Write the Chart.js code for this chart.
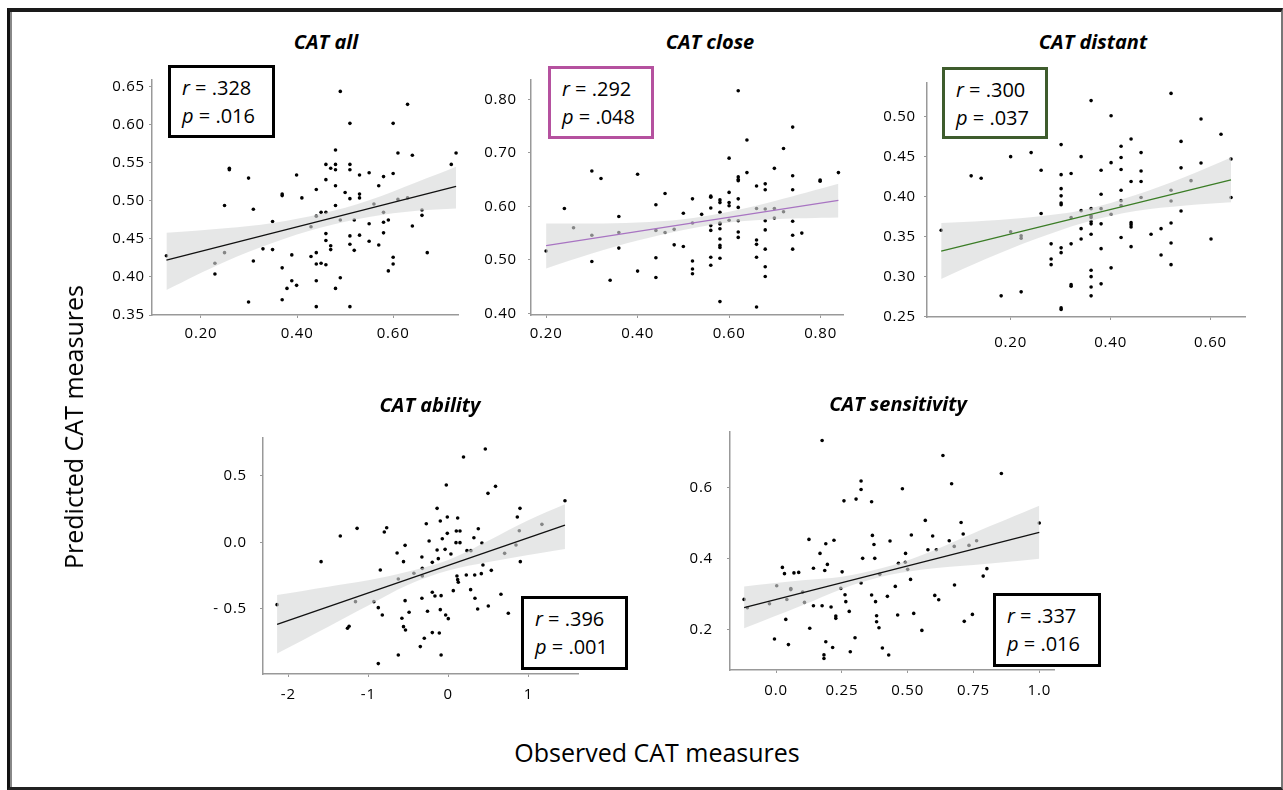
<!DOCTYPE html>
<html>
<head>
<meta charset="utf-8">
<script src="https://cdn.jsdelivr.net/npm/chart.js@4.4.1/dist/chart.umd.min.js"></script>
<style>
  body { margin: 0; width: 1283px; height: 790px; position: relative; overflow: hidden; background: #fff; font-family: "Open Sans", sans-serif; color: #111; }
  .frame { position: absolute; left: 7px; top: 8px; right: 0; bottom: 0; box-sizing: border-box;
           border-left: 3px solid #111; border-top: 4px solid #1a1a1a; border-right: 2px solid #777; border-bottom: 3px solid #222;
           box-shadow: inset 2px 0 0 #888; }
  .title { position: absolute; font: italic bold 20px/20px "Open Sans", sans-serif; transform: translateX(-50%); white-space: nowrap; color: #000; }
  .axis { position: absolute; font: 25px/30px "Open Sans", sans-serif; white-space: nowrap; transform: translate(-50%, -50%); color: #000; }
  .stat { position: absolute; box-sizing: border-box; border: 3px solid #000; background: #fff; font: 20px/28px "Open Sans", sans-serif; padding: 6px 0 0 11px; z-index: 2; color: #000; }
  .stat i { font-style: italic; }
  canvas { position: absolute; }
</style>
</head>
<body>
<div class="frame"></div>

<script>
// ---- CAT all ----
const allTicksX = [0.20, 0.40, 0.60];
const allTicksY = [0.35, 0.40, 0.45, 0.50, 0.55, 0.60, 0.65];
const allPts = [
  [0.128,0.428],[0.229,0.404],[0.229,0.418],[0.249,0.432],[0.249,0.494],[0.259,0.543],[0.259,0.541],
  [0.299,0.530],[0.299,0.367],[0.309,0.489],[0.309,0.421],[0.329,0.437],[0.349,0.473],[0.349,0.436],
  [0.369,0.509],[0.369,0.507],[0.369,0.412],[0.369,0.370],[0.379,0.385],[0.389,0.395],[0.399,0.389],
  [0.389,0.429],[0.399,0.534],[0.410,0.504],[0.429,0.466],[0.429,0.427],[0.440,0.515],[0.440,0.480],
  [0.440,0.432],[0.440,0.417],[0.440,0.395],[0.440,0.361],[0.450,0.485],[0.450,0.418],[0.460,0.548],
  [0.460,0.528],[0.460,0.485],[0.460,0.457],[0.460,0.448],[0.460,0.416],[0.470,0.543],[0.470,0.441],
  [0.470,0.436],[0.480,0.567],[0.480,0.548],[0.480,0.541],[0.480,0.520],[0.480,0.494],[0.480,0.385],
  [0.490,0.644],[0.490,0.475],[0.490,0.399],[0.500,0.511],[0.510,0.602],[0.510,0.548],[0.510,0.541],
  [0.510,0.503],[0.510,0.454],[0.510,0.443],[0.510,0.361],[0.519,0.475],[0.519,0.435],[0.530,0.534],
  [0.530,0.509],[0.530,0.504],[0.530,0.455],[0.550,0.537],[0.550,0.470],[0.550,0.447],[0.560,0.496],
  [0.570,0.520],[0.570,0.442],[0.580,0.532],[0.580,0.485],[0.580,0.472],[0.580,0.458],[0.590,0.475],
  [0.590,0.408],[0.600,0.602],[0.600,0.536],[0.600,0.426],[0.600,0.417],[0.610,0.563],[0.610,0.502],
  [0.630,0.627],[0.630,0.504],[0.640,0.560],[0.640,0.467],[0.660,0.488],[0.660,0.481],[0.671,0.432],
  [0.721,0.548],[0.731,0.563]
];
const allFit = [[0.128, 0.422], [0.731, 0.519]];
const allBandX  = [0.128, 0.25, 0.35, 0.45, 0.55, 0.65, 0.731];
const allBandUp = [0.458, 0.464, 0.471, 0.483, 0.501, 0.525, 0.545];
const allBandLo = [0.383, 0.420, 0.445, 0.465, 0.479, 0.487, 0.490];

// ---- CAT close ----
const closeTicksX = [0.20, 0.40, 0.60, 0.80];
const closeTicksY = [0.40, 0.50, 0.60, 0.70, 0.80];
const closePts = [
  [0.2,0.5165],[0.24,0.596],[0.26,0.560],[0.30,0.666],[0.30,0.546],[0.30,0.497],[0.32,0.652],[0.34,0.462],
  [0.359,0.581],[0.359,0.551],[0.359,0.522],[0.40,0.660],[0.40,0.479],[0.44,0.603],[0.44,0.555],[0.44,0.504],
  [0.44,0.467],[0.46,0.624],[0.46,0.551],[0.48,0.557],[0.48,0.528],[0.50,0.587],[0.50,0.525],[0.52,0.614],
  [0.52,0.569],[0.52,0.498],[0.52,0.483],[0.52,0.474],[0.54,0.585],[0.56,0.619],[0.56,0.617],[0.56,0.597],
  [0.56,0.564],[0.56,0.555],[0.56,0.505],[0.56,0.490],[0.58,0.612],[0.58,0.607],[0.58,0.589],[0.58,0.569],
  [0.58,0.567],[0.58,0.558],[0.58,0.539],[0.58,0.527],[0.58,0.523],[0.58,0.503],[0.58,0.422],[0.60,0.690],
  [0.60,0.626],[0.60,0.607],[0.60,0.601],[0.60,0.574],[0.62,0.816],[0.62,0.655],[0.62,0.650],[0.62,0.648],
  [0.62,0.614],[0.62,0.598],[0.62,0.573],[0.62,0.552],[0.62,0.542],[0.639,0.724],[0.639,0.663],[0.66,0.638],
  [0.66,0.596],[0.66,0.537],[0.66,0.529],[0.66,0.505],[0.66,0.412],[0.679,0.642],[0.679,0.631],[0.679,0.595],
  [0.679,0.573],[0.679,0.556],[0.679,0.520],[0.679,0.487],[0.679,0.469],[0.699,0.671],[0.699,0.596],[0.699,0.578],
  [0.719,0.708],[0.719,0.590],[0.739,0.748],[0.739,0.657],[0.739,0.631],[0.739,0.572],[0.739,0.546],[0.739,0.520],
  [0.759,0.550],[0.799,0.649],[0.799,0.647],[0.839,0.663]
];
const closeFit = [[0.2, 0.5265], [0.839, 0.611]];
const closeBandX  = [0.2, 0.3, 0.4, 0.5, 0.6, 0.7, 0.839];
const closeBandUp = [0.568, 0.568, 0.570, 0.576, 0.590, 0.610, 0.642];
const closeBandLo = [0.484, 0.512, 0.536, 0.556, 0.570, 0.576, 0.579];

// ---- CAT distant ----
const distTicksX = [0.20, 0.40, 0.60];
const distTicksY = [0.25, 0.30, 0.35, 0.40, 0.45, 0.50];
const distPts = [
  [0.061,0.358],[0.121,0.426],[0.141,0.423],[0.181,0.276],[0.20,0.45],[0.20,0.356],[0.221,0.351],[0.221,0.348],
  [0.221,0.281],[0.241,0.455],[0.261,0.433],[0.261,0.379],[0.281,0.341],[0.281,0.322],[0.281,0.315],[0.301,0.465],
  [0.301,0.4275],[0.301,0.410],[0.301,0.401],[0.301,0.392],[0.301,0.390],[0.301,0.336],[0.301,0.330],[0.301,0.261],
  [0.301,0.259],[0.321,0.429],[0.321,0.374],[0.321,0.341],[0.321,0.290],[0.321,0.288],[0.341,0.450],[0.341,0.3825],
  [0.341,0.360],[0.341,0.347],[0.361,0.520],[0.361,0.385],[0.361,0.376],[0.361,0.374],[0.361,0.369],[0.361,0.366],
  [0.361,0.353],[0.361,0.308],[0.361,0.300],[0.361,0.287],[0.361,0.276],[0.381,0.433],[0.381,0.403],[0.381,0.385],
  [0.381,0.366],[0.381,0.335],[0.381,0.291],[0.401,0.501],[0.401,0.4425],[0.401,0.378],[0.401,0.311],[0.421,0.463],
  [0.421,0.449],[0.421,0.434],[0.421,0.408],[0.421,0.395],[0.421,0.389],[0.421,0.349],[0.441,0.472],[0.441,0.419],
  [0.441,0.3675],[0.441,0.365],[0.441,0.362],[0.441,0.3375],[0.461,0.455],[0.461,0.432],[0.461,0.419],[0.461,0.399],
  [0.481,0.353],[0.501,0.360],[0.501,0.327],[0.521,0.529],[0.521,0.408],[0.521,0.3945],[0.521,0.367],[0.521,0.342],
  [0.521,0.315],[0.541,0.469],[0.541,0.436],[0.541,0.382],[0.561,0.420],[0.581,0.497],[0.581,0.442],[0.601,0.347],
  [0.621,0.478],[0.641,0.447],[0.641,0.399]
];
const distFit = [[0.061, 0.332], [0.641, 0.421]];
const distBandX  = [0.061, 0.15, 0.25, 0.35, 0.45, 0.55, 0.641];
const distBandUp = [0.367, 0.370, 0.375, 0.384, 0.402, 0.425, 0.449];
const distBandLo = [0.297, 0.322, 0.347, 0.368, 0.382, 0.389, 0.393];

// ---- CAT ability ----
const abilTicksX = [-2, -1, 0, 1];
const abilLabelsX = ['-2', '-1', '0', '1'];
const abilTicksY = [-0.5, 0, 0.5];
const abilLabelsY = ['- 0.5', '0.0', '0.5'];
const abilPts = [
  [-2.14,-0.4675],[-1.59,-0.145],[-1.35,0.0475],[-1.26,-0.645],[-1.24,-0.63],[-1.16,-0.445],[-1.14,0.105],
  [-0.93,-0.445],[-0.875,-0.49],[-0.85,-0.2075],[-0.825,-0.545],[-0.875,-0.91],[-0.80,0.0775],[-0.77,0.11],
  [-0.64,-0.08],[-0.625,-0.275],[-0.625,-0.845],[-0.58,-0.57],[-0.56,-0.145],[-0.54,-0.0225],[-0.54,-0.4375],
  [-0.56,-0.6325],[-0.535,-0.6575],[-0.49,-0.525],[-0.43,-0.2325],[-0.35,-0.7825],[-0.33,-0.11],[-0.33,-0.42],
  [-0.325,-0.195],[-0.325,-0.2525],[-0.30,-0.72],[-0.275,0.14],[-0.26,-0.5175],[-0.24,0.01],[-0.20,-0.15],
  [-0.20,-0.375],[-0.20,-0.6775],[-0.167,-0.4025],[-0.14,0.255],[-0.14,-0.0575],[-0.125,-0.1225],[-0.1125,-0.68],
  [-0.10,0.16],[-0.09,-0.40],[-0.09,-0.845],[-0.10,-0.505],[-0.075,0.0275],[-0.04,-0.0525],[-0.033,-0.545],
  [-0.025,0.43],[-0.0125,0.19],[-0.0125,0.0675],[0.0,-0.5725],[0.033,-0.0875],[0.0625,-0.3625],[0.10,0.085],
  [0.108,-0.2525],[0.117,0.1825],[0.117,-0.28],[0.125,-0.30],[0.096,-0.0025],[0.146,-0.0025],[0.146,0.085],
  [0.19,0.64],[0.233,-0.0625],[0.225,-0.245],[0.283,-0.0625],[0.279,-0.355],[0.32,0.035],[0.33,-0.245],
  [0.333,-0.42],[0.367,-0.50],[0.375,0.1025],[0.4125,-0.235],[0.42,-0.005],[0.433,-0.17],[0.4625,0.70],
  [0.496,0.3675],[0.50,-0.4775],[0.5375,-0.21],[0.59,0.42],[0.658,-0.39],[0.704,-0.0825],[0.75,-0.5325],
  [0.846,-0.02],[0.8625,0.19],[0.8875,0.0875],[0.896,0.255],[0.90,-0.145],[1.17,0.135],[1.458,0.3125]
];
const abilFit = [[-2.14, -0.615], [1.458, 0.13]];
const abilBandX  = [-2.14, -1.5, -1.0, -0.5, 0.0, 0.5, 1.0, 1.458];
const abilBandUp = [-0.395, -0.3325, -0.284, -0.2185, -0.132, 0.012, 0.165, 0.285];
const abilBandLo = [-0.835, -0.6325, -0.474, -0.3185, -0.212, -0.148, -0.095, -0.05];

// ---- CAT sensitivity ----
const sensTicksX = [0, 0.25, 0.5, 0.75, 1.0];
const sensLabelsX = ['0.0', '0.25', '0.50', '0.75', '1.0'];
const sensTicksY = [0.2, 0.4, 0.6];
const sensLabelsY = ['0.2', '0.4', '0.6'];
const sensPts = [
  [-0.1215,0.2854],[-0.109,0.262],[-0.025,0.273],[-0.006,0.174],[0.0025,0.324],[0.024,0.3756],[0.032,0.358],
  [0.037,0.229],[0.041,0.285],[0.047,0.158],[0.056,0.316],[0.056,0.313],[0.068,0.360],[0.086,0.3615],[0.101,0.306],
  [0.108,0.277],[0.125,0.4545],[0.128,0.204],[0.142,0.373],[0.142,0.2676],[0.167,0.415],[0.175,0.733],[0.175,0.2676],
  [0.185,0.367],[0.189,0.442],[0.189,0.166],[0.182,0.129],[0.182,0.119],[0.195,0.384],[0.209,0.264],[0.215,0.150],
  [0.220,0.452],[0.227,0.2385],[0.227,0.232],[0.246,0.3164],[0.251,0.363],[0.258,0.563],[0.262,0.2986],[0.265,0.279],
  [0.278,0.2516],[0.282,0.138],[0.300,0.1775],[0.304,0.568],[0.323,0.619],[0.323,0.595],[0.323,0.3315],[0.329,0.401],
  [0.363,0.5606],[0.363,0.2977],[0.366,0.4657],[0.372,0.440],[0.375,0.401],[0.378,0.279],[0.382,0.2394],[0.382,0.2225],
  [0.391,0.2056],[0.394,0.356],[0.404,0.1484],[0.423,0.294],[0.428,0.1286],[0.433,0.450],[0.453,0.322],[0.462,0.2413],
  [0.465,0.387],[0.480,0.597],[0.491,0.390],[0.492,0.415],[0.50,0.370],[0.511,0.3418],[0.514,0.4667],[0.523,0.246],
  [0.554,0.198],[0.567,0.508],[0.577,0.4254],[0.595,0.464],[0.603,0.2967],[0.609,0.4254],[0.618,0.2845],[0.634,0.691],
  [0.658,0.4507],[0.667,0.611],[0.677,0.4347],[0.678,0.3258],[0.703,0.502],[0.711,0.4695],[0.715,0.2235],[0.733,0.4375],
  [0.746,0.2432],[0.762,0.4507],[0.787,0.351],[0.801,0.372],[0.856,0.640],[1.0,0.5005]
];
const sensFit = [[-0.1215, 0.262], [1.0, 0.474]];
const sensBandX  = [-0.1215, 0.1, 0.25, 0.4, 0.55, 0.75, 1.0];
const sensBandUp = [0.322, 0.339, 0.349, 0.373, 0.409, 0.472, 0.549];
const sensBandLo = [0.204, 0.269, 0.315, 0.349, 0.369, 0.382, 0.40];

const two = v => v.toFixed(2);

// the original figure is stretched sideways, so open the tick labels up a little
const spacer = { id: 'spacer', beforeDraw(c) { c.ctx.letterSpacing = '0.8px'; } };

function panel(p) {
  const YW = 70, XH = 40, PR = 10;
  const PT = p.yPad + 10;   // room for the scale's own label padding, so the plot top stays put
  const [l, t, r, b] = p.area;
  const w = r - l + YW + PR, h = b - t + PT + XH;
  const cv = document.createElement('canvas');
  cv.width = w; cv.height = h;
  cv.style.left = (l - YW) + 'px';
  cv.style.top = (t - PT) + 'px';
  document.body.appendChild(cv);

  const font = { family: '"Open Sans", sans-serif', size: 15 };
  const axisGrid = { drawOnChartArea: false, drawTicks: true, tickLength: 3, color: '#999' };
  const xy = a => a.map(q => ({ x: q[0], y: q[1] }));

  new Chart(cv, {
    type: 'scatter',
    data: {
      datasets: [
        { data: xy(p.pts), pointRadius: 1.8, pointBackgroundColor: '#000', pointBorderWidth: 0, order: 3 },
        { data: p.bandX.map((x, i) => ({ x, y: p.bandUp[i] })), showLine: true, borderWidth: 0, pointRadius: 0,
          fill: '+1', backgroundColor: 'rgba(214,217,217,0.62)', tension: 0.35, order: 2 },
        { data: p.bandX.map((x, i) => ({ x, y: p.bandLo[i] })), showLine: true, borderWidth: 0, pointRadius: 0,
          fill: false, tension: 0.35, order: 2 },
        { data: xy(p.fit), showLine: true, borderColor: p.line, borderWidth: 1.3, pointRadius: 0, order: 1 }
      ]
    },
    options: {
      responsive: false,
      animation: false,
      events: [],
      layout: { padding: { top: PT, right: PR, left: 0, bottom: 0 } },
      plugins: { legend: { display: false }, tooltip: { enabled: false } },
      scales: {
        x: {
          type: 'linear', min: p.x[0], max: p.x[1],
          afterFit: s => { s.height = XH; },
          afterBuildTicks: s => { s.ticks = p.xTicks.map(v => ({ value: v })); },
          ticks: { callback: (v, i) => p.xLabels[i], padding: p.xPad, font, color: '#000', maxRotation: 0, autoSkip: false },
          grid: axisGrid,
          border: { color: '#999', width: 1.5 }
        },
        y: {
          type: 'linear', min: p.y[0], max: p.y[1],
          afterFit: s => { s.width = YW; },
          afterBuildTicks: s => { s.ticks = p.yTicks.map(v => ({ value: v })); },
          ticks: { callback: (v, i) => p.yLabels[i], padding: p.yPad, font, color: '#000', autoSkip: false },
          grid: axisGrid,
          border: { color: '#999', width: 1.5 }
        }
      }
    },
    plugins: [spacer]
  });
}

panel({ area: [152, 80, 458, 315], x: [0.098, 0.735], y: [0.35, 0.659],
        xTicks: allTicksX, xLabels: allTicksX.map(two), yTicks: allTicksY, yLabels: allTicksY.map(two),
        pts: allPts, fit: allFit, bandX: allBandX, bandUp: allBandUp, bandLo: allBandLo,
        line: '#111', xPad: 7, yPad: 4 });
panel({ area: [531, 80, 843, 315], x: [0.167, 0.849], y: [0.397, 0.836],
        xTicks: closeTicksX, xLabels: closeTicksX.map(two), yTicks: closeTicksY, yLabels: closeTicksY.map(two),
        pts: closePts, fit: closeFit, bandX: closeBandX, bandUp: closeBandUp, bandLo: closeBandLo,
        line: '#a874c2', xPad: 7, yPad: 11 });
panel({ area: [927, 83, 1245, 317], x: [0.0326, 0.669], y: [0.2496, 0.542],
        xTicks: distTicksX, xLabels: distTicksX.map(two), yTicks: distTicksY, yLabels: distTicksY.map(two),
        pts: distPts, fit: distFit, bandX: distBandX, bandUp: distBandUp, bandLo: distBandLo,
        line: '#3b7d26', xPad: 14, yPad: 8 });
panel({ area: [263, 438, 578, 674], x: [-2.316, 1.621], y: [-0.988, 0.783],
        xTicks: abilTicksX, xLabels: abilLabelsX, yTicks: abilTicksY, yLabels: abilLabelsY,
        pts: abilPts, fit: abilFit, bandX: abilBandX, bandUp: abilBandUp, bandLo: abilBandLo,
        line: '#111', xPad: 9, yPad: 13 });
panel({ area: [730, 432, 1054, 670], x: [-0.175, 1.056], y: [0.0865, 0.757],
        xTicks: sensTicksX, xLabels: sensLabelsX, yTicks: sensTicksY, yLabels: sensLabelsY,
        pts: sensPts, fit: sensFit, bandX: sensBandX, bandUp: sensBandUp, bandLo: sensBandLo,
        line: '#111', xPad: 9, yPad: 14 });
</script>

<div class="title" style="left:326px; top:32px;">CAT all</div>
<div class="title" style="left:710px; top:32px;">CAT close</div>
<div class="title" style="left:1093px; top:32px;">CAT distant</div>
<div class="title" style="left:430px; top:395px;">CAT ability</div>
<div class="title" style="left:898px; top:394px;">CAT sensitivity</div>

<div class="stat" style="left:168px; top:65px; width:107px; height:73px;"><div><i>r</i> = .328</div><div><i>p</i> = .016</div></div>
<div class="stat" style="left:548px; top:66px; width:106px; height:73px; border-color:#b5519f;"><div><i>r</i> = .292</div><div><i>p</i> = .048</div></div>
<div class="stat" style="left:942px; top:67px; width:106px; height:72px; border-color:#3e5c2d;"><div><i>r</i> = .300</div><div><i>p</i> = .037</div></div>
<div class="stat" style="left:521px; top:596px; width:107px; height:74px;"><div><i>r</i> = .396</div><div><i>p</i> = .001</div></div>
<div class="stat" style="left:993px; top:593px; width:108px; height:74px;"><div><i>r</i> = .337</div><div><i>p</i> = .016</div></div>

<div class="axis" style="left:73px; top:427px; transform: translate(-50%, -50%) rotate(-90deg);">Predicted CAT measures</div>
<div class="axis" style="left:657px; top:752px;">Observed CAT measures</div>
</body>
</html>
